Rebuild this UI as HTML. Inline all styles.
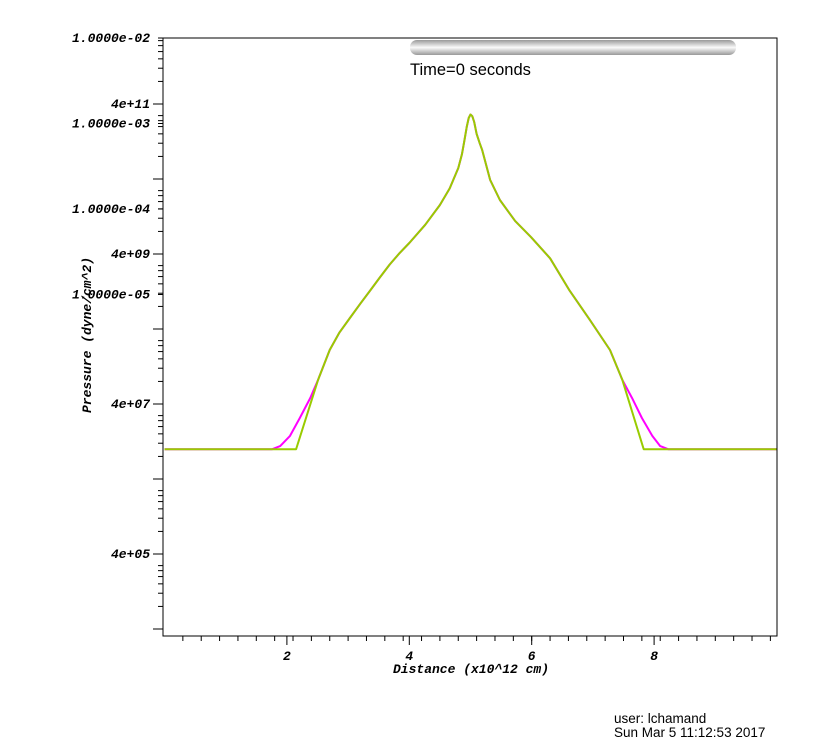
<!DOCTYPE html>
<html><head><meta charset="utf-8"><style>
body{margin:0;background:#fff;width:820px;height:748px;overflow:hidden}
svg{display:block}
.al{font-family:"Liberation Mono",monospace;font-weight:bold;font-style:italic;font-size:13px;fill:#000}
</style></head><body>
<svg id="chart" width="820" height="748">
<defs><linearGradient id="bar" x1="0" y1="0" x2="0" y2="1"><stop offset="0" stop-color="#999"/><stop offset="0.5" stop-color="#fafafa"/><stop offset="1" stop-color="#999"/></linearGradient></defs>
<rect x="163" y="38" width="614" height="598" fill="none" stroke="#000" stroke-width="1"/>
<rect x="410" y="40" width="326" height="15" rx="7" fill="url(#bar)"/>
<text x="410" y="75" font-family="Liberation Sans,sans-serif" font-size="16.5">Time=0 seconds</text>
<g id="axes"></g>
<g id="series"></g>
<text class="al" x="471" y="673" text-anchor="middle">Distance (x10^12 cm)</text>
<text class="al" transform="translate(91,335) rotate(-90)" text-anchor="middle">Pressure (dyne/cm^2)</text>
<text x="614" y="723" font-family="Liberation Sans,sans-serif" font-size="13.5">user: lchamand</text>
<text x="614" y="737" font-family="Liberation Sans,sans-serif" font-size="13.5">Sun Mar  5 11:12:53 2017</text>
</svg>
<script>
const xTicks=[2,4,6,8];
const yLabelExps=[5,7,9,11];
const altLabels=["1.0000e-02","1.0000e-03","1.0000e-04","1.0000e-05"];
const greenX=[0,2.15,2.51,2.70,2.86,3.03,3.20,3.36,3.52,3.68,3.84,4.00,4.26,4.50,4.66,4.80,4.86,4.90,4.94,4.97,5.00,5.03,5.06,5.10,5.15,5.19,5.32,5.48,5.73,5.99,6.30,6.62,6.95,7.28,7.48,7.83,10];
const greenY=[1e7,1e7,8.4e7,2.1e8,3.6e8,5.6e8,8.7e8,1.3e9,1.95e9,2.9e9,4.1e9,5.6e9,9.8e9,1.8e10,3.0e10,5.6e10,8.5e10,1.3e11,2.0e11,2.6e11,2.9e11,2.75e11,2.3e11,1.6e11,1.2e11,9.8e10,3.9e10,2.1e10,1.1e10,6.7e9,3.5e9,1.3e9,5.3e8,2.1e8,8.4e7,1e7,1e7];
const magX=[0,1.76,1.89,2.05,2.21,2.38,2.51,2.70,2.86,3.03,3.20,3.36,3.52,3.68,3.84,4.00,4.26,4.50,4.66,4.80,4.86,4.90,4.94,4.97,5.00,5.03,5.06,5.10,5.15,5.19,5.32,5.48,5.73,5.99,6.30,6.62,6.95,7.28,7.48,7.64,7.80,7.97,8.10,8.23,10];
const magY=[1e7,1e7,1.1e7,1.5e7,2.6e7,4.8e7,8.4e7,2.1e8,3.6e8,5.6e8,8.7e8,1.3e9,1.95e9,2.9e9,4.1e9,5.6e9,9.8e9,1.8e10,3.0e10,5.6e10,8.5e10,1.3e11,2.0e11,2.6e11,2.9e11,2.75e11,2.3e11,1.6e11,1.2e11,9.8e10,3.9e10,2.1e10,1.1e10,6.7e9,3.5e9,1.3e9,5.3e8,2.1e8,8.4e7,4.8e7,2.6e7,1.5e7,1.1e7,1e7,1e7];
const NS="http://www.w3.org/2000/svg";
function sx(d){return 164.5+d*61.2;}
function sy(v){return 404-75*(Math.log10(v)-Math.log10(4e7));}
const ax=document.getElementById('axes'),se=document.getElementById('series');
function ln(x1,y1,x2,y2,name){const l=document.createElementNS(NS,'line');
l.setAttribute('x1',x1);l.setAttribute('y1',y1);l.setAttribute('x2',x2);l.setAttribute('y2',y2);l.setAttribute('stroke','#000');


ax.appendChild(l);}
function tx(x,y,s,anchor,name){const t=document.createElementNS(NS,'text');t.setAttribute('x',x);t.setAttribute('y',y);t.setAttribute('class','al');t.setAttribute('text-anchor',anchor);t.textContent=s;


ax.appendChild(t);}
for(let d=0.3;d<10;d+=0.3){const x=sx(d);if(x<777)ln(x,636,x,641,'x-minor-tick');}
xTicks.forEach(d=>{ln(sx(d),636,sx(d),645,'x-major-tick');tx(sx(d),660,String(d),'middle','x-tick-label');});
for(let e=4;e<=12;e++){const y=sy(4*Math.pow(10,e));if(y>=38&&y<=636)ln(153,y,163,y,'y-major-tick');
 [2,3,4,5,6,7].forEach(m=>{const yy=sy(4*Math.pow(10,e)*m/10);if(yy>=38&&yy<=636)ln(158,yy,163,yy,'y-minor-tick');});}
yLabelExps.forEach(e=>tx(150,sy(4*Math.pow(10,e))+4,'4e+'+(e<10?'0'+e:e),'end','y-tick-label'));
altLabels.forEach((s,i)=>{const y=38+85.5*i;ln(158,y,163,y,'alt-y-tick');tx(150,y+4,s,'end','alt-y-tick-label');});
function path(X,Y,col,name){const p=document.createElementNS(NS,'path');
p.setAttribute('d',X.map((d,i)=>(i?'L':'M')+sx(d).toFixed(1)+' '+sy(Y[i]).toFixed(1)).join(''));
p.setAttribute('fill','none');p.setAttribute('stroke',col);p.setAttribute('stroke-width','2');p.setAttribute('stroke-linejoin','round');


se.appendChild(p);}
path(magX,magY,'#ff00ff','series-magenta');
path(greenX,greenY,'#99cc00','series-green');
</script>
</body></html>
